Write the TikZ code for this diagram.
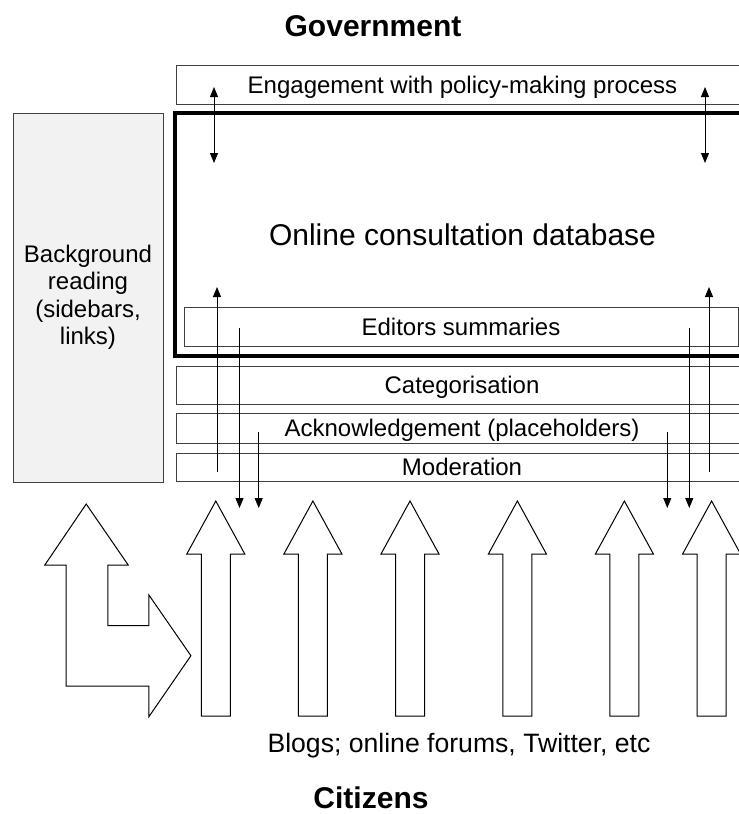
\documentclass[tikz,border=0pt]{standalone}
\usepackage{fontspec}
\setmainfont{Liberation Sans}
\usetikzlibrary{arrows.meta}
\definecolor{boxline}{HTML}{404040}
\definecolor{bgfill}{HTML}{F2F2F2}
\begin{document}
\begin{tikzpicture}[x=1pt,y=-1pt,
  layerbox/.style={draw=boxline, line width=1pt, anchor=north west, inner sep=0pt, outer sep=0pt,
    font=\fontsize{24}{27.5}\selectfont, text height=17pt, text depth=0pt},
  mainbox/.style={draw=black, line width=3.5pt, anchor=north west, inner sep=0pt, outer sep=0pt,
    font=\fontsize{30}{34}\selectfont, text height=21.5pt, text depth=0pt},
  sidebox/.style={draw=boxline, line width=1pt, fill=bgfill, anchor=north west, inner sep=0pt, outer sep=0pt,
    align=center, font=\fontsize{24}{27.5}\selectfont},
  flow/.style={line width=1pt, -{Triangle[length=10pt,width=8pt]}},
  twoway/.style={line width=1pt, {Triangle[length=10pt,width=8pt]}-{Triangle[length=10pt,width=8pt]}},
  hollow/.style={draw=black, line width=1pt, fill=white, line join=miter},
  title/.style={anchor=base, font=\fontsize{30}{34}\selectfont\bfseries},
  caption/.style={anchor=base, font=\fontsize{26.6}{30}\selectfont}
]
\useasboundingbox (0,0) rectangle (739,814);
\clip (0,0) rectangle (739,814);

% titles
\node[title] (gov) at (373,36.5) {Government};
\node[title] (cit) at (371,808) {Citizens};
\node[caption] (blogs) at (459,752) {Blogs; online forums, Twitter, etc};

% boxes
\node[layerbox, minimum width=572pt, minimum height=39pt] (engage) at (176.5,65) {Engagement with policy-making process};
\node[mainbox, minimum width=575pt, minimum height=243pt] (db) at (175,113) {Online consultation database};
\node[layerbox, minimum width=554pt, minimum height=39pt] (editors) at (184,307.7) {Editors summaries};
\node[layerbox, minimum width=572pt, minimum height=38pt] (categ) at (176,366) {Categorisation};
\node[layerbox, minimum width=572pt, minimum height=30pt] (ack) at (176,413) {Acknowledgement (placeholders)};
\node[layerbox, minimum width=572pt, minimum height=28.7pt] (moder) at (176,453) {Moderation};
\node[sidebox, minimum width=150pt, minimum height=369pt] (bg) at (13,113) {Background\\reading\\(sidebars,\\links)};

% connector end points
\coordinate (tl1) at (214,87);   \coordinate (tl2) at (214,163);
\coordinate (tr1) at (705,87);   \coordinate (tr2) at (705,163);
\coordinate (ul1) at (217,472);  \coordinate (ul2) at (217,287);
\coordinate (ur1) at (709,472);  \coordinate (ur2) at (709,287);
\coordinate (dl1) at (239.5,327.7); \coordinate (dl2) at (239.5,508);
\coordinate (dl3) at (258.7,431.7); \coordinate (dl4) at (258.7,508);
\coordinate (dr1) at (667.3,431.7); \coordinate (dr2) at (667.3,508);
\coordinate (dr3) at (689.3,327.7); \coordinate (dr4) at (689.3,508);

\draw[twoway] (tl1) -- (tl2);
\draw[twoway] (tr1) -- (tr2);
\draw[flow] (ul1) -- (ul2);
\draw[flow] (ur1) -- (ur2);
\draw[flow] (dl1) -- (dl2);
\draw[flow] (dl3) -- (dl4);
\draw[flow] (dr1) -- (dr2);
\draw[flow] (dr3) -- (dr4);

% hollow up arrows
\foreach \c in {215.8,312.9,410,517.4,624.4,711.6}{
  \draw[hollow] (\c,501) -- (\c+29,554) -- (\c+14.5,554) -- (\c+14.5,716)
    -- (\c-14.5,716) -- (\c-14.5,554) -- (\c-29,554) -- cycle;
}

% bent arrow
\draw[hollow] (86.2,504) -- (128.2,565) -- (107.9,565) -- (107.9,625.7) -- (148.9,625.7)
  -- (148.9,595) -- (190.9,655.7) -- (148.9,716.7) -- (148.9,686) -- (66,686)
  -- (66,565) -- (44.8,565) -- cycle;
\end{tikzpicture}
\end{document}
